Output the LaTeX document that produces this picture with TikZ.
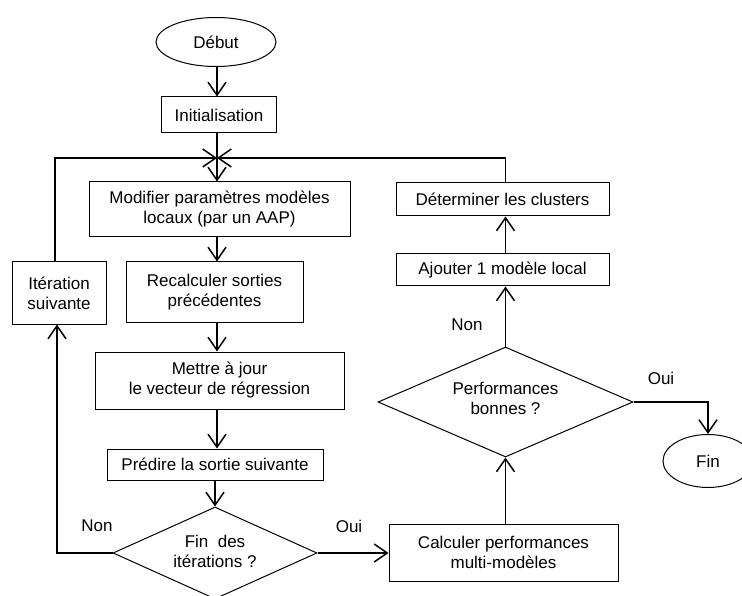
\documentclass[tikz,border=0pt]{standalone}
\usepackage{fontspec}
\setmainfont{Liberation Sans}
\usetikzlibrary{shapes.geometric,arrows.meta}
\begin{document}
\begin{tikzpicture}[x=1pt,y=-1pt,
  every node/.style={font=\fontsize{17}{20}\selectfont, align=center},
  box/.style={draw, line width=1pt, rectangle, inner sep=0pt},
  oval/.style={draw, line width=1pt, ellipse, inner sep=0pt},
  dia/.style={draw, line width=1pt, diamond, inner sep=0pt},
  arr/.style={line width=1.5pt, -{Straight Barb[length=13pt,width=18pt,line width=1.5pt]}},
  ln/.style={line width=1.5pt},
  lbl/.style={inner sep=0pt}]
\useasboundingbox (0,0) rectangle (742,596);
\begin{scope}
\clip (0,0) rectangle (742,596);
\node[oval, minimum width=120pt, minimum height=49pt] (debut) at (216,42) {Début};
\node[box, minimum width=115pt, minimum height=36pt] (init) at (219,115) {Initialisation};
\coordinate (J) at (217,158);
\node[box, minimum width=261pt, minimum height=55pt] (modif) at (219.5,209.5) {Modifier paramètres modèles\\locaux (par un AAP)};
\node[box, minimum width=177pt, minimum height=60pt] (recalc) at (214.5,292) {Recalculer sorties\\précédentes};
\node[box, minimum width=94pt, minimum height=62pt] (iter) at (59,293) {Itération\\suivante};
\node[box, minimum width=249pt, minimum height=57pt] (mettre) at (219.5,380.5) {Mettre à jour\\le vecteur de régression};
\node[box, minimum width=216pt, minimum height=31pt] (predire) at (215,464.5) {Prédire la sortie suivante};
\node[dia, minimum width=204pt, minimum height=92pt] (findes) at (215,553) {};
\node[lbl] (findestxt) at (215,551) {Fin~ des\\itérations ?};
\node[box, minimum width=229pt, minimum height=57pt] (calc) at (503.5,552.5) {Calculer performances\\multi-modèles};
\node[dia, minimum width=255pt, minimum height=110pt] (perf) at (505.5,402) {};
\node[lbl] (perftxt) at (505.5,398) {Performances\\bonnes ?};
\node[box, minimum width=213pt, minimum height=32pt] (ajout) at (502.5,270) {Ajouter 1 modèle local};
\node[box, minimum width=213pt, minimum height=33pt] (determ) at (502.5,199.5) {Déterminer les clusters};
\node[oval, minimum width=90pt, minimum height=53pt] (fin) at (708,461) {Fin};

\node[lbl] (non1) at (97,526) {Non};
\node[lbl] (oui1) at (349,526) {Oui};
\node[lbl] (non2) at (467,325) {Non};
\node[lbl] (oui2) at (661,378) {Oui};

\draw[arr] (debut.south -| J) -- (init.north -| J);
\draw[ln] (init.south -| J) -- (J);
\draw[arr] (J) -- (modif.north -| J);
\draw[arr] ([xshift=-4pt]iter.north) |- (J);
\draw[arr] (determ.north -| perf.north) |- (J);
\draw[arr] (modif.south -| J) -- (recalc.north -| J);
\draw[arr] (recalc.south -| J) -- (mettre.north -| J);
\draw[arr] (mettre.south -| J) -- (predire.north -| J);
\draw[arr] (predire.south -| findes.north) -- (findes.north);
\draw[arr] (findes.west) -| ([xshift=-2pt]iter.south);
\draw[arr] (findes.east) -- (calc.west |- findes.east);
\draw[arr] (calc.north -| perf.south) -- (perf.south);
\draw[arr] (perf.north) -- (ajout.south -| perf.north);
\draw[arr] (ajout.north -| perf.north) -- (determ.south -| perf.north);
\draw[arr] (perf.east) -| (fin.north);
\end{scope}
\end{tikzpicture}
\end{document}
